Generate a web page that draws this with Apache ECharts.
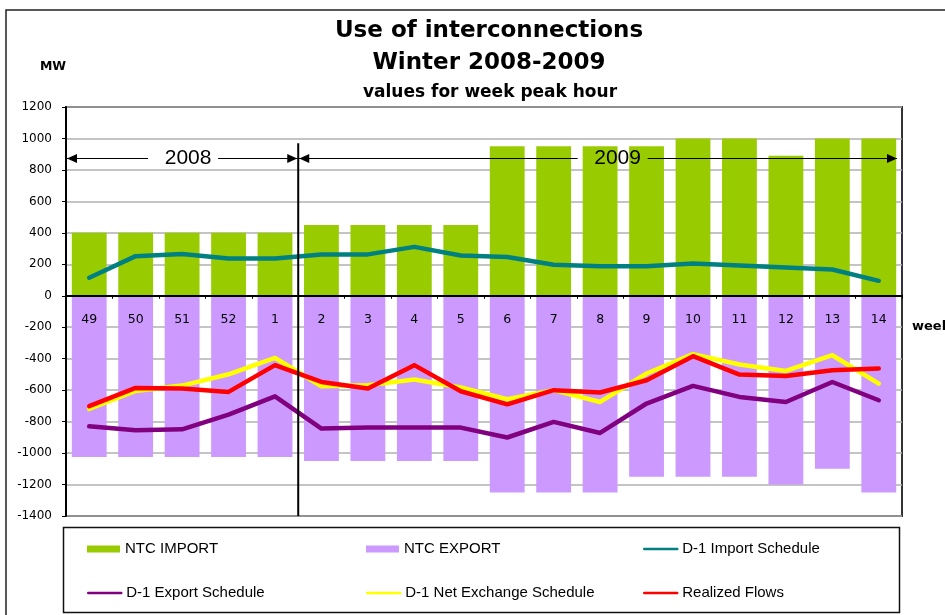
<!DOCTYPE html>
<html>
<head>
<meta charset="utf-8">
<script src="https://cdn.jsdelivr.net/npm/echarts@6/dist/echarts.min.js"></script>
<style>
  html, body { margin: 0; padding: 0; background: #fff; }
  #chart { width: 945px; height: 615px; }
</style>
</head>
<body>
<div id="chart"></div>
<script>
// weeks of winter 2008-2009
const weeks = ['49', '50', '51', '52', '1', '2', '3', '4', '5', '6', '7', '8', '9', '10', '11', '12', '13', '14']
const ntcImport = [400, 400, 400, 400, 400, 450, 450, 450, 450, 950, 950, 950, 950, 1000, 1000, 890, 1000, 1000]
const ntcExport = [-1025, -1025, -1025, -1025, -1025, -1050, -1050, -1050, -1050, -1250, -1250, -1250, -1150, -1150, -1150, -1200, -1100, -1250]
const importSchedule = [114, 252, 265, 237, 237, 263, 263, 311, 256, 247, 197, 188, 188, 205, 193, 180, 167, 95]
const exportSchedule = [-830, -855, -849, -755, -639, -844, -838, -838, -838, -901, -802, -872, -685, -573, -643, -675, -548, -664]
const netSchedule = [-719, -605, -571, -499, -395, -575, -569, -532, -583, -658, -600, -675, -494, -371, -437, -478, -378, -558]
const realizedFlows = [-702, -586, -590, -611, -441, -548, -590, -441, -607, -690, -600, -615, -537, -384, -501, -510, -473, -462]

const yMin = -1400
const yMax = 1200
const yStep = 200

var chart = echarts.init(document.getElementById('chart'))

// plot box
const gridTop = 107
const gridBottom = 99
const plotH = 615 - gridTop - gridBottom
// week numbers sit just under the zero line, not under the plot
const zeroOffset = plotH * (0 - yMin) / (yMax - yMin)

// legend: one small legend per cell of the 3x2 grid at the bottom
const legendCells = [
  { name: 'NTC IMPORT', left: 87, top: 541, bar: true },
  { name: 'NTC EXPORT', left: 366, top: 541, bar: true },
  { name: 'D-1 Import Schedule', left: 643, top: 541 },
  { name: 'D-1 Export Schedule', left: 87, top: 585 },
  { name: 'D-1 Net Exchange Schedule', left: 366, top: 585 },
  { name: 'Realized Flows', left: 643, top: 585 }
]

function legendFor(c) {
  let l = {
    data: [c.name],
    left: c.left,
    top: c.top,
    padding: 0,
    itemWidth: 33,
    itemHeight: 7,
    selectedMode: false,
    textStyle: { color: '#000', fontFamily: 'Liberation Sans', fontSize: 15, lineHeight: 16 }
  }
  if (c.bar) {
    l.icon = 'rect'
  } else {
    // plain line, no marker in the middle
    l.lineStyle = { width: 2.5 }
    l.itemStyle = { opacity: 0 }
  }
  return l
}

function lineSeries(name, data, color) {
  return {
    name: name,
    type: 'line',
    data: data,
    symbol: 'none',
    smooth: false,
    lineStyle: { color: color, width: 4.5, cap: 'round', join: 'round' },
    itemStyle: { color: color },
    z: 3
  }
}

let option = {
  animation: false,
  backgroundColor: '#fff',
  grid: {
    left: 66,
    right: 43,
    top: gridTop,
    bottom: gridBottom,
    outerBoundsMode: 'none',
    containLabel: false,
    show: true,
    borderColor: '#333',
    borderWidth: 2
  },
  xAxis: {
    type: 'category',
    data: weeks,
    z: 5,
    axisLine: { onZero: true, lineStyle: { color: '#000', width: 2 } },
    axisTick: { show: true, length: 3, inside: false, lineStyle: { color: '#000', width: 1 } },
    axisLabel: { interval: 0, margin: 17 - zeroOffset, color: '#000', fontFamily: 'DejaVu Sans', fontSize: 12.5 },
    name: 'week',
    nameLocation: 'end',
    nameGap: 10,
    nameTextStyle: {
      color: '#000', fontFamily: 'DejaVu Sans', fontWeight: 'bold', fontSize: 13,
      verticalAlign: 'top', padding: [24, 0, 0, 0]
    }
  },
  yAxis: {
    type: 'value',
    min: yMin,
    max: yMax,
    interval: yStep,
    axisLine: { show: true, lineStyle: { color: '#000', width: 2 } },
    axisTick: { show: true, length: 4, lineStyle: { color: '#000' } },
    axisLabel: { margin: 14, color: '#000', fontFamily: 'DejaVu Sans', fontSize: 12, formatter: v => String(v) },
    splitLine: { lineStyle: { color: '#b0b0b0', width: 1.5 } }
  },
  legend: legendCells.map(legendFor),
  graphic: [
    { type: 'rect', shape: { x: 6, y: 10, width: 960, height: 620 }, style: { fill: 'none', stroke: '#222', lineWidth: 1.5 }, silent: true, z: 0 },
    { type: 'rect', shape: { x: 63.5, y: 527.5, width: 836, height: 85 }, style: { fill: 'none', stroke: '#111', lineWidth: 1.5 }, silent: true },
    { type: 'text', x: 489, y: 31, style: { text: 'Use of interconnections', font: 'bold 23px "DejaVu Sans"', textAlign: 'center', textVerticalAlign: 'middle', fill: '#000' } },
    { type: 'text', x: 489, y: 63, style: { text: 'Winter 2008-2009', font: 'bold 23px "DejaVu Sans"', textAlign: 'center', textVerticalAlign: 'middle', fill: '#000' } },
    { type: 'text', x: 490, y: 93, style: { text: 'values for week peak hour', font: 'bold 17px "DejaVu Sans"', textAlign: 'center', textVerticalAlign: 'middle', fill: '#000' } },
    { type: 'text', x: 53, y: 67, style: { text: 'MW', font: 'bold 12.5px "DejaVu Sans"', textAlign: 'center', textVerticalAlign: 'middle', fill: '#000' } }
  ],
  series: [
    {
      name: 'NTC IMPORT',
      type: 'bar',
      data: ntcImport,
      barCategoryGap: '25%',
      barGap: '-100%',
      itemStyle: { color: '#99CC00' }
    },
    {
      name: 'NTC EXPORT',
      type: 'bar',
      data: ntcExport,
      barCategoryGap: '25%',
      barGap: '-100%',
      itemStyle: { color: '#CC99FF' }
    },
    lineSeries('D-1 Import Schedule', importSchedule, '#008080'),
    lineSeries('D-1 Export Schedule', exportSchedule, '#800080'),
    lineSeries('D-1 Net Exchange Schedule', netSchedule, '#FFFF00'),
    lineSeries('Realized Flows', realizedFlows, '#FF0000')
  ]
}

chart.setOption(option)

// year markers: divider between week 1 and week 2, and the arrows above the bars
function yearMarks() {
  const px = i => chart.convertToPixel({ xAxisIndex: 0 }, i)
  const py = v => chart.convertToPixel({ yAxisIndex: 0 }, v)
  const band = px(1) - px(0)
  const xLeft = px(0) - band / 2
  const xDiv = (px(4) + px(5)) / 2
  const xEnd = px(weeks.length - 1) + band / 2 - 5
  const yArrow = Math.round(py(875)) + 0.5
  const head = 10, half = 4.5
  const c2008 = (xLeft + xDiv) / 2 + 6
  const c2009 = (xDiv + xEnd) / 2 + 20
  const ln = (id, x1, x2) => ({ id: id, type: 'line', shape: { x1: x1, y1: yArrow, x2: x2, y2: yArrow }, style: { stroke: '#000', lineWidth: 1.2 }, z: 10 })
  const txt = { font: '21px "Liberation Sans"', textAlign: 'center', textVerticalAlign: 'middle', fill: '#000' }
  const g = []
  g.push({ id: 'div', type: 'line', shape: { x1: xDiv, y1: py(970), x2: xDiv, y2: py(yMin) }, style: { stroke: '#000', lineWidth: 2 }, z: 10 })
  g.push(ln('a1', xLeft, c2008 - 40))
  g.push(ln('a2', c2008 + 30, xDiv))
  g.push(ln('a3', xDiv, c2009 - 40))
  g.push(ln('a4', c2009 + 30, xEnd))
  g.push({ id: 'h1', type: 'polygon', shape: { points: [[xLeft + 1, yArrow], [xLeft + 1 + head, yArrow - half], [xLeft + 1 + head, yArrow + half]] }, style: { fill: '#000' }, z: 11 })
  g.push({ id: 'h2', type: 'polygon', shape: { points: [[xDiv - 1, yArrow], [xDiv - 1 - head, yArrow - half], [xDiv - 1 - head, yArrow + half]] }, style: { fill: '#000' }, z: 11 })
  g.push({ id: 'h3', type: 'polygon', shape: { points: [[xDiv + 1, yArrow], [xDiv + 1 + head, yArrow - half], [xDiv + 1 + head, yArrow + half]] }, style: { fill: '#000' }, z: 11 })
  g.push({ id: 'h4', type: 'polygon', shape: { points: [[xEnd, yArrow], [xEnd - head, yArrow - half], [xEnd - head, yArrow + half]] }, style: { fill: '#000' }, z: 11 })
  g.push({ id: 't1', type: 'text', x: c2008, y: yArrow, style: Object.assign({ text: '2008' }, txt), z: 12 })
  g.push({ id: 't2', type: 'text', x: c2009, y: yArrow, style: Object.assign({ text: '2009' }, txt), z: 12 })
  chart.setOption({ graphic: option.graphic.concat(g) })
}
yearMarks()

window.onresize = () => {
  chart.resize()
  yearMarks()
}
</script>
</body>
</html>
